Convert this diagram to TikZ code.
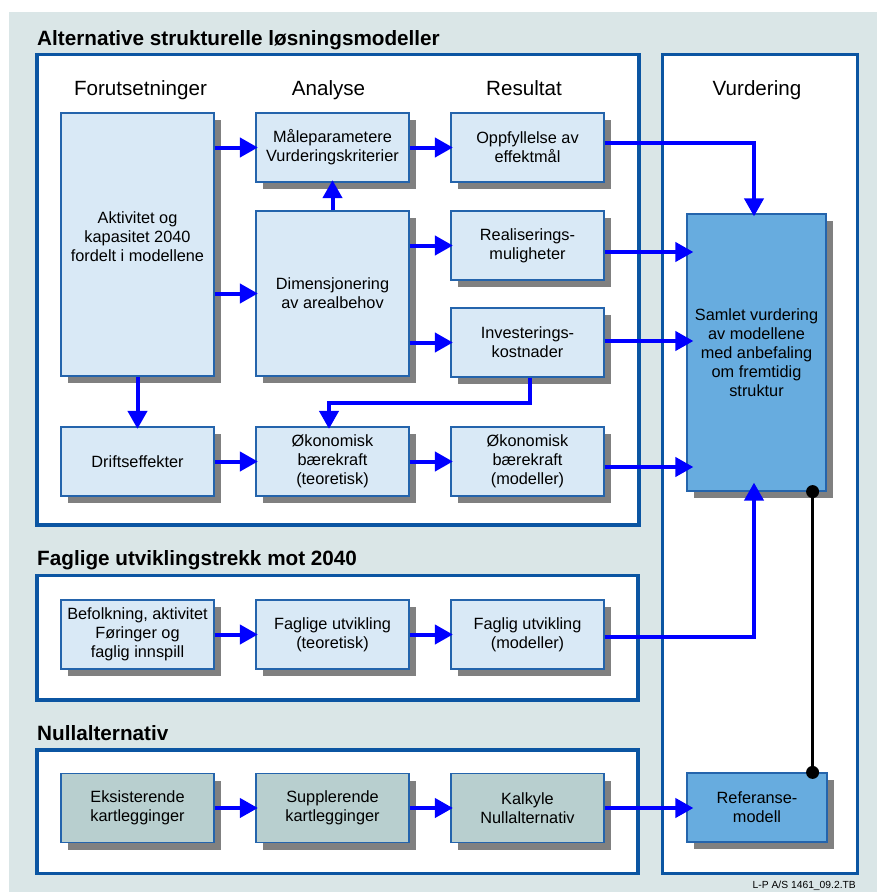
\documentclass[tikz,border=0pt]{standalone}
\usepackage{fontspec}
\setmainfont{Liberation Sans}
\usetikzlibrary{arrows.meta,shadows,calc}

\definecolor{bgpanel}{HTML}{DAE6E7}
\definecolor{panelline}{HTML}{0B55A2}
\definecolor{boxline}{HTML}{2464AC}
\definecolor{boxfill}{HTML}{D9E9F6}
\definecolor{nullfill}{HTML}{B8CFCF}
\definecolor{evalfill}{HTML}{67ACDF}
\definecolor{shadowgray}{HTML}{808080}
\definecolor{flowblue}{HTML}{0000FF}

\tikzset{
  panel/.style={draw=panelline, line width=3.5pt, fill=white},
  box/.style={draw=boxline, line width=1.2pt, fill=boxfill,
    minimum width=153pt, minimum height=69pt, inner sep=0pt, align=center,
    font=\fontsize{16.3}{19}\selectfont,
    drop shadow={shadow xshift=7pt, shadow yshift=-7pt, fill=shadowgray, opacity=1}},
  nullbox/.style={box, fill=nullfill},
  evalbox/.style={box, fill=evalfill},
  boxtext/.style={inner sep=0pt, align=center, font=\fontsize{16.3}{19}\selectfont},
  colhead/.style={inner sep=0pt, anchor=base, font=\fontsize{20.6}{24}\selectfont},
  sectitle/.style={inner sep=0pt, anchor=base west, font=\fontsize{20.7}{24}\selectfont\bfseries},
  flow/.style={draw=flowblue, line width=4pt,
    -{Triangle[length=18pt,width=19pt]}, shorten >=-2.5pt},
  flowin/.style={flow, shorten >=-7pt},
  link/.style={draw=black, line width=3pt}
}

\begin{document}
\begin{tikzpicture}[x=1pt,y=-1pt]
\useasboundingbox (0,0) rectangle (877,892);
\fill[bgpanel] (9,12) rectangle (877,892);

% section frames
\draw[panel] (37,54.5) rectangle (639,525);
\draw[panel] (662.5,54.5) rectangle (857.5,873.5);
\draw[panel] (37,575.5) rectangle (638,700);
\draw[panel] (37,750) rectangle (638,873.5);

% section titles and column headings
\node[sectitle] (tAlt) at (37,45) {Alternative strukturelle løsningsmodeller};
\node[sectitle] (tFag) at (37,565) {Faglige utviklingstrekk mot 2040};
\node[sectitle] (tNull) at (37,740) {Nullalternativ};

\node[colhead] (hForut) at (140.5,95) {Forutsetninger};
\node[colhead] (hAnalyse) at (328.5,95) {Analyse};
\node[colhead] (hResultat) at (524,95) {Resultat};
\node[colhead] (hVurd) at (757,95) {Vurdering};

% boxes
\node[box, minimum height=263pt] (akt) at (137.5,244.5) {};
\node[boxtext] (aktTxt) at (137.5,237) {Aktivitet og\\kapasitet 2040\\fordelt i modellene};
\node[box] (maal) at (332.5,147.5) {Måleparametere\\Vurderingskriterier};
\node[box] (oppf) at (527.5,147.5) {Oppfyllelse av\\effektmål};
\node[box, minimum height=165pt] (dim) at (332.5,293.5) {Dimensjonering\\av arealbehov};
\node[box] (real) at (527.5,245.5) {Realiserings-\\muligheter};
\node[box] (inv) at (527.5,342.5) {Investerings-\\kostnader};
\node[box] (drift) at (137.5,461.5) {Driftseffekter};
\node[box] (oekTeo) at (332.5,461.5) {Økonomisk\\bærekraft\\(teoretisk)};
\node[box] (oekMod) at (527.5,461.5) {Økonomisk\\bærekraft\\(modeller)};

\node[box] (befolk) at (137.5,634.5) {Befolkning, aktivitet\\Føringer og\\faglig innspill};
\node[box] (fagTeo) at (332.5,634.5) {Faglige utvikling\\(teoretisk)};
\node[box] (fagMod) at (527.5,634.5) {Faglig utvikling\\(modeller)};

\node[nullbox] (eks) at (137.5,808) {Eksisterende\\kartlegginger};
\node[nullbox] (suppl) at (332.5,808) {Supplerende\\kartlegginger};
\node[nullbox] (kalk) at (527.5,808) {Kalkyle\\Nullalternativ};

\node[evalbox, minimum width=139pt, minimum height=277pt] (samlet) at (756.5,352.5)
  {Samlet vurdering\\av modellene\\med anbefaling\\om fremtidig\\struktur};
\node[evalbox, minimum width=140pt] (ref) at (757,807.5) {Referanse-\\modell};

% flows within the alternative models
\draw[flow] (akt.east |- maal) -- (maal.west);
\draw[flow] (maal) -- (oppf);
\draw[flow] (dim) -- (maal);
\draw[flow] (akt.east |- dim) -- (dim.west);
\draw[flow] (dim.east |- real) -- (real.west);
\draw[flow] (dim.east |- inv) -- (inv.west);
\draw[flow] (akt) -- (drift);
\draw[flow] (drift) -- (oekTeo);
\draw[flow] (oekTeo) -- (oekMod);
\draw[flow] ([xshift=2.5pt]inv.south) -- ++(0,25) -| ([xshift=-3.5pt]oekTeo.north);

% flows into the overall evaluation
\coordinate (oOut) at ([yshift=4.5pt]oppf.east);
\coordinate (sTop) at ([xshift=-2.5pt]samlet.north);
\draw[flow, shorten >=-3pt] (oOut) -| (sTop);
\coordinate (rOut) at ([yshift=-6.5pt]real.east);
\draw[flowin] (rOut) -- (rOut -| samlet.west);
\coordinate (iOut) at ([yshift=1.5pt]inv.east);
\draw[flowin] (iOut) -- (iOut -| samlet.west);
\coordinate (eOut) at ([yshift=-5.5pt]oekMod.east);
\draw[flowin] (eOut) -- (eOut -| samlet.west);
\coordinate (fOut) at ([yshift=-2.5pt]fagMod.east);
\coordinate (sBot) at ([xshift=-2.5pt]samlet.south);
\draw[flow, shorten >=-9pt] (fOut) -| (sBot);

% professional trends and zero alternative
\draw[flow] (befolk) -- (fagTeo);
\draw[flow] (fagTeo) -- (fagMod);
\draw[flow] (eks) -- (suppl);
\draw[flow] (suppl) -- (kalk);
\draw[flowin] (kalk.east) -- (kalk.east -| ref.west);

% reference link
\coordinate (d1) at ($(samlet.south east)+(-14,0)$);
\coordinate (d2) at ($(ref.north east)+(-15,0)$);
\draw[link] (d1) -- (d2);
\fill (d1) circle[radius=6.5pt];
\fill (d2) circle[radius=6.5pt];

\node[inner sep=0pt, anchor=base east, font=\fontsize{10.3}{12}\selectfont] (code) at (856,888) {L-P A/S 1461\_09.2.TB};
\end{tikzpicture}
\end{document}
